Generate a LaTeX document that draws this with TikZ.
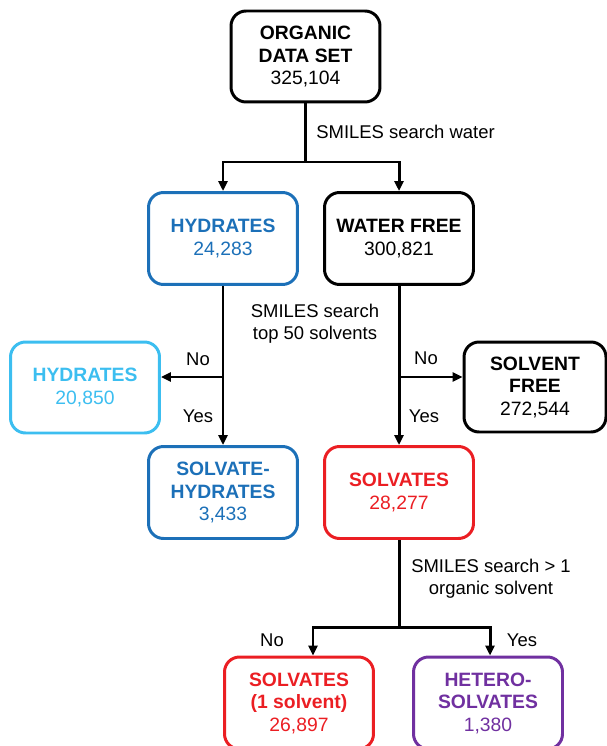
\documentclass[tikz,border=0pt]{standalone}
\usepackage{fontspec}
\setmainfont{Liberation Sans}
\usepackage{tikz}
\usetikzlibrary{arrows.meta}
\definecolor{hydblue}{RGB}{28,112,184}
\definecolor{lightblue}{RGB}{60,190,240}
\definecolor{solvred}{RGB}{235,30,35}
\definecolor{hetpurple}{RGB}{112,48,160}

\begin{document}
\begin{tikzpicture}[x=0.02cm,y=-0.02cm,
    box/.style={draw,line width=1.7pt,rounded corners=0.3cm,minimum width=2.98cm,
      minimum height=1.84cm,align=center,inner sep=2pt,
      font=\fontsize{11}{12.8}\selectfont},
    link/.style={line width=1.7pt,-{Triangle[length=0.2cm,width=0.18cm]}},
    lbl/.style={inner sep=0pt,font=\fontsize{10.5}{12.5}\selectfont}]
  \useasboundingbox (0,0) rectangle (607,746);
  \clip (0,0) rectangle (607,746);
  % boxes
  \node[box,minimum height=1.82cm] (org) at (305.5,56.5) {\textbf{ORGANIC}\\\textbf{DATA SET}\\325,104};
  \node[box,hydblue] (hyd) at (223,238.5) {\textbf{HYDRATES}\\24,283};
  \node[box] (wfree) at (399,238.5) {\textbf{WATER FREE}\\300,821};
  \node[box,lightblue,minimum height=1.82cm] (hydb) at (85,387.5) {\textbf{HYDRATES}\\20,850};
  \node[box,minimum width=2.84cm,minimum height=1.8cm] (sfree) at (535,387) {\textbf{SOLVENT}\\\textbf{FREE}\\272,544};
  \node[box,hydblue] (solhyd) at (223,492.5) {\textbf{SOLVATE-}\\\textbf{HYDRATES}\\3,433};
  \node[box,solvred] (solv) at (399,492.5) {\textbf{SOLVATES}\\28,277};
  \node[box,solvred] (single) at (299,703) {\textbf{SOLVATES}\\\textbf{(1 solvent)}\\26,897};
  \node[box,hetpurple] (hetero) at (488,703) {\textbf{HETERO-}\\\textbf{SOLVATES}\\1,380};
  % connectors
  \coordinate (split1) at (305.5,162);
  \draw[line width=1.7pt] (org) -- (split1);
  \draw[link] (split1) -| (hyd.north);
  \draw[link] (split1) -| (wfree.north);
  \draw[link] (hyd) -- (solhyd);
  \coordinate (split2) at (223,377);
  \draw[link] (split2) -- (split2 -| hydb.east);
  \draw[link] (wfree) -- (solv);
  \coordinate (split3) at (399,377);
  \draw[link] (split3) -- (split3 -| sfree.west);
  \coordinate (split4) at (399,627);
  \draw[line width=1.7pt] (solv) -- (split4);
  \draw[link] (split4) -| ([xshift=0.28cm]single.north);
  \draw[link] (split4) -| ([xshift=0.04cm]hetero.north);
  % labels
  \node[lbl,anchor=west] (q1) at (316,132) {SMILES search water};
  \node[lbl,align=center] (q2) at (315,324) {SMILES search\\top 50 solvents};
  \node[lbl] (no1) at (198,359) {No};
  \node[lbl] (yes1) at (198,416) {Yes};
  \node[lbl] (no2) at (426,358) {No};
  \node[lbl] (yes2) at (424,416) {Yes};
  \node[lbl,align=center] (q3) at (491,579) {SMILES search > 1\\organic solvent};
  \node[lbl] (no3) at (272,640) {No};
  \node[lbl] (yes3) at (522,640) {Yes};
\end{tikzpicture}
\end{document}
